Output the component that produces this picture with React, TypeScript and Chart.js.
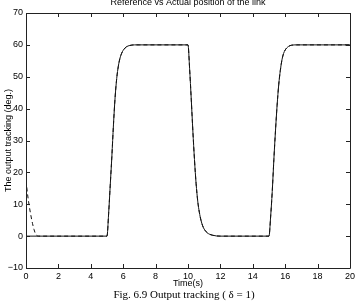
import React, { useEffect, useRef } from "react";
import { Chart, registerables } from "chart.js";

Chart.register(...registerables);

// Actual output (solid)
const timeSolid = [
  0, 5, 5.1, 5.2, 5.3, 5.4, 5.5, 5.6, 5.7, 5.8, 5.9, 6.0, 6.2, 6.4, 6.7, 7,
  10, 10.1, 10.2, 10.3, 10.4, 10.5, 10.6, 10.7, 10.8, 10.9, 11.0, 11.2, 11.5, 12,
  15, 15.1, 15.2, 15.3, 15.4, 15.5, 15.6, 15.7, 15.8, 15.9, 16.0, 16.2, 16.4, 16.7, 20,
];
const posSolid = [
  0, 0, 7, 16, 25, 35, 43.5, 49.5, 53.3, 55.8, 57.3, 58.3, 59.4, 59.8, 60, 60,
  60, 52.5, 43, 33, 24, 16.5, 11, 7.5, 5, 3.3, 2.2, 1, 0.3, 0,
  0, 6, 14, 24, 33, 41, 47.5, 52, 55.3, 57.3, 58.4, 59.5, 59.9, 60, 60,
];

// Reference / initial-error trajectory (dashed)
const timeDashed = [
  0, 0.1, 0.2, 0.3, 0.4, 0.5, 0.6, 0.8, 5, 5.1, 5.2, 5.3, 5.4, 5.5, 5.6, 5.7, 5.8, 5.9, 6.0, 6.2, 6.4, 6.7,
  10, 10.1, 10.2, 10.3, 10.4, 10.5, 10.6, 10.7, 10.8, 10.9, 11.0, 11.2, 11.5, 12,
  15, 15.1, 15.2, 15.3, 15.4, 15.5, 15.6, 15.7, 15.8, 15.9, 16.0, 16.2, 16.4, 16.7, 20,
];
const posDashed = [
  17.5, 13, 9.5, 6.5, 4, 2, 0.6, 0, 0, 7, 16, 25, 35, 43.5, 49.5, 53.3, 55.8, 57.3, 58.3, 59.4, 59.8, 60,
  60, 52.5, 43, 33, 24, 16.5, 11, 7.5, 5, 3.3, 2.2, 1, 0.3, 0,
  0, 6, 14, 24, 33, 41, 47.5, 52, 55.3, 57.3, 58.4, 59.5, 59.9, 60, 60,
];

const xTicks = [0, 2, 4, 6, 8, 10, 12, 14, 16, 18, 20];
const yTicks = [-10, 0, 10, 20, 30, 40, 50, 60, 70];

const titleText = "Reference vs Actual position of the link";
const xLabel = "Time(s)";
const yLabel = "The output tracking (deg.)";
const captionText = "Fig. 6.9 Output tracking ( δ = 1)";

const SANS = "'Liberation Sans', Arial, Helvetica, sans-serif";
const SERIF = "'Liberation Serif', 'Times New Roman', serif";

const matlabPlugin = {
  id: "matlabFrame",
  afterDraw(chart: any) {
    const { ctx, chartArea } = chart;
    const { left, right, top, bottom } = chartArea;
    const xs = chart.scales.x;
    const ys = chart.scales.y;
    const tl = 4;
    ctx.save();
    ctx.strokeStyle = "#222";
    ctx.lineWidth = 1;
    ctx.beginPath();
    ctx.rect(Math.round(left) + 0.5, Math.round(top) + 0.5, Math.round(right - left), Math.round(bottom - top));
    ctx.stroke();
    ctx.beginPath();
    xTicks.forEach((v) => {
      const px = Math.round(xs.getPixelForValue(v)) + 0.5;
      ctx.moveTo(px, bottom);
      ctx.lineTo(px, bottom - tl);
      ctx.moveTo(px, top);
      ctx.lineTo(px, top + tl);
    });
    yTicks.forEach((v) => {
      const py = Math.round(ys.getPixelForValue(v)) + 0.5;
      ctx.moveTo(left, py);
      ctx.lineTo(left + tl, py);
      ctx.moveTo(right, py);
      ctx.lineTo(right - tl, py);
    });
    ctx.stroke();

    ctx.fillStyle = "#000";
    ctx.textAlign = "center";
    ctx.textBaseline = "alphabetic";
    ctx.font = `9px ${SANS}`;
    ctx.fillText(titleText, (left + right) / 2, 5);
    ctx.fillText(xLabel, (left + right) / 2, 286);

    ctx.save();
    ctx.translate(9, (top + bottom) / 2);
    ctx.rotate(-Math.PI / 2);
    ctx.textBaseline = "middle";
    ctx.fillText(yLabel, 0, 0);
    ctx.restore();

    ctx.font = `11px ${SERIF}`;
    ctx.fillText(captionText, 184, 298);
    ctx.restore();
  },
};

export default function App() {
  const ref = useRef<HTMLCanvasElement | null>(null);
  useEffect(() => {
    if (!ref.current) return;
    const chart = new Chart(ref.current, {
      type: "line",
      data: {
        datasets: [
          {
            label: "Actual",
            data: timeSolid.map((t, i) => ({ x: t, y: posSolid[i] })),
            borderColor: "#111",
            borderWidth: 1,
            pointRadius: 0,
            fill: false,
            cubicInterpolationMode: "monotone",
          },
          {
            label: "Reference",
            data: timeDashed.map((t, i) => ({ x: t, y: posDashed[i] })),
            borderColor: "#111",
            borderWidth: 1,
            borderDash: [4, 3],
            pointRadius: 0,
            fill: false,
            cubicInterpolationMode: "monotone",
          },
        ],
      },
      options: {
        animation: false,
        responsive: false,
        devicePixelRatio: 1,
        layout: { padding: { top: 13, right: 5, left: 0, bottom: 0 } },
        plugins: {
          legend: { display: false },
          title: { display: false },
          tooltip: { enabled: false },
        },
        scales: {
          x: {
            type: "linear",
            min: 0,
            max: 20,
            afterBuildTicks: (s: any) => {
              s.ticks = xTicks.map((v) => ({ value: v }));
            },
            afterFit: (s: any) => {
              s.height = 35;
              s.paddingRight = 0;
              s.paddingLeft = 0;
            },
            grid: { display: false, drawTicks: false },
            border: { display: false },
            ticks: {
              color: "#000",
              font: { family: SANS, size: 9 },
              padding: 3,
              maxRotation: 0,
              autoSkip: false,
            },
          },
          y: {
            type: "linear",
            min: -10,
            max: 70,
            afterBuildTicks: (s: any) => {
              s.ticks = yTicks.map((v) => ({ value: v }));
            },
            afterFit: (s: any) => {
              s.width = 26;
            },
            grid: { display: false, drawTicks: false },
            border: { display: false },
            ticks: {
              color: "#000",
              font: { family: SANS, size: 9 },
              padding: 3,
              autoSkip: false,
              callback: (v: any) => (Number(v) < 0 ? "\u2212" + Math.abs(Number(v)) : String(v)),
            },
          },
        },
      },
      plugins: [matlabPlugin],
    });
    return () => chart.destroy();
  }, []);
  return (
    <div style={{ position: "fixed", left: 0, top: 0, width: 355, height: 303, background: "#fff" }}>
      <canvas ref={ref} width={355} height={303} style={{ display: "block" }} />
    </div>
  );
}
